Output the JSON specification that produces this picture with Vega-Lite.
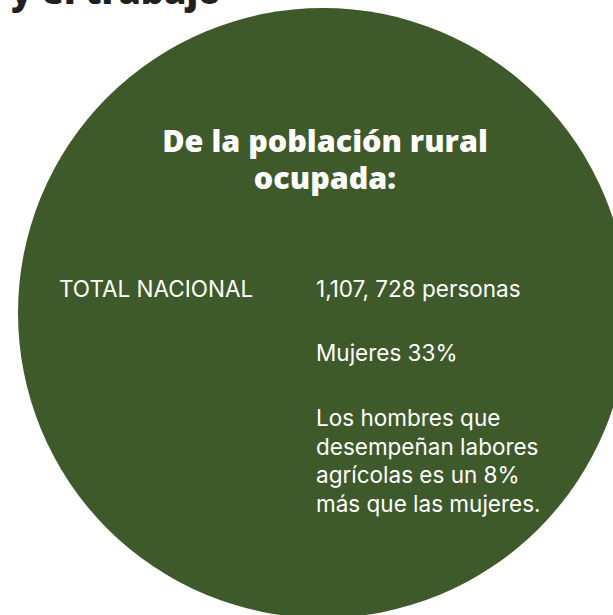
{
  "$schema": "https://vega.github.io/schema/vega-lite/v6.json",
  "width": 613,
  "height": 615,
  "autosize": "none",
  "padding": 0,
  "background": "white",
  "config": {"view": {"stroke": null}},
  "layer": [
    {
      "data": {"values": [{"forma": "círculo"}]},
      "mark": {"type": "point", "shape": "circle", "filled": true, "size": 372100, "color": "#3e5a2b", "opacity": 1},
      "encoding": {
        "x": {"datum": 323, "type": "quantitative", "scale": {"domain": [0, 613], "nice": false, "zero": false}, "axis": null},
        "y": {"datum": 313, "type": "quantitative", "scale": {"domain": [0, 615], "nice": false, "zero": false, "reverse": true}, "axis": null}
      }
    },
    {
      "data": {"values": [{"texto": "y el trabajo"}]},
      "mark": {"type": "text", "align": "right", "baseline": "alphabetic", "font": "Open Sans", "fontWeight": 800, "fontSize": 36, "color": "#231f20"},
      "encoding": {
        "x": {"datum": 221, "type": "quantitative"},
        "y": {"datum": 4, "type": "quantitative"},
        "text": {"field": "texto", "type": "nominal"}
      }
    },
    {
      "data": {"values": [{"texto": "De la población rural"}]},
      "mark": {"type": "text", "align": "center", "baseline": "alphabetic", "font": "Open Sans", "fontWeight": 800, "fontSize": 30.5, "color": "white"},
      "encoding": {
        "x": {"datum": 325, "type": "quantitative"},
        "y": {"datum": 152, "type": "quantitative"},
        "text": {"field": "texto", "type": "nominal"}
      }
    },
    {
      "data": {"values": [{"texto": "ocupada:"}]},
      "mark": {"type": "text", "align": "center", "baseline": "alphabetic", "font": "Open Sans", "fontWeight": 800, "fontSize": 30.5, "color": "white"},
      "encoding": {
        "x": {"datum": 325, "type": "quantitative"},
        "y": {"datum": 189, "type": "quantitative"},
        "text": {"field": "texto", "type": "nominal"}
      }
    },
    {
      "data": {"values": [{"texto": "TOTAL NACIONAL"}]},
      "mark": {"type": "text", "align": "left", "baseline": "alphabetic", "font": "Inter", "fontSize": 22.5, "color": "white"},
      "encoding": {
        "x": {"datum": 59, "type": "quantitative"},
        "y": {"datum": 297, "type": "quantitative"},
        "text": {"field": "texto", "type": "nominal"}
      }
    },
    {
      "data": {"values": [{"texto": "1,107, 728 personas"}]},
      "mark": {"type": "text", "align": "left", "baseline": "alphabetic", "font": "Inter", "fontSize": 22.5, "color": "white"},
      "encoding": {
        "x": {"datum": 316, "type": "quantitative"},
        "y": {"datum": 297, "type": "quantitative"},
        "text": {"field": "texto", "type": "nominal"}
      }
    },
    {
      "data": {"values": [{"texto": "Mujeres 33%"}]},
      "mark": {"type": "text", "align": "left", "baseline": "alphabetic", "font": "Inter", "fontSize": 22.5, "color": "white"},
      "encoding": {
        "x": {"datum": 316, "type": "quantitative"},
        "y": {"datum": 361, "type": "quantitative"},
        "text": {"field": "texto", "type": "nominal"}
      }
    },
    {
      "data": {"values": [{"texto": "Los hombres que\ndesempeñan labores\nagrícolas es un 8%\nmás que las mujeres."}]},
      "mark": {"type": "text", "align": "left", "baseline": "alphabetic", "lineBreak": "\n", "lineHeight": 28.7, "font": "Inter", "fontSize": 22.5, "color": "white"},
      "encoding": {
        "x": {"datum": 316, "type": "quantitative"},
        "y": {"datum": 426, "type": "quantitative"},
        "text": {"field": "texto", "type": "nominal"}
      }
    }
  ]
}
